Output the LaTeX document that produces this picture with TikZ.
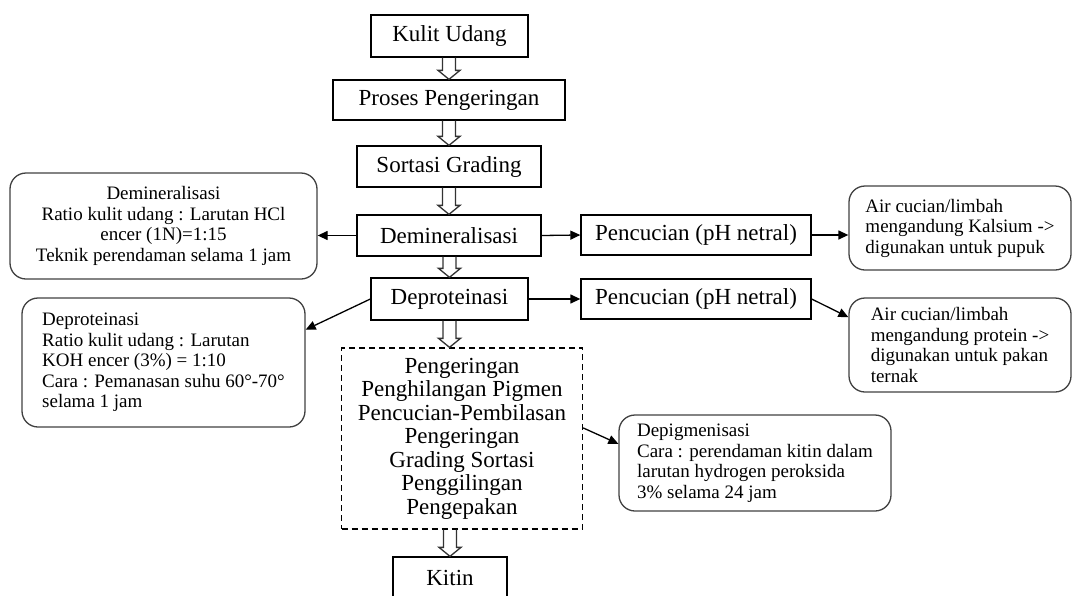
\documentclass[tikz,border=0pt]{standalone}
\usepackage{fontspec}
\setmainfont{Liberation Serif}
\usetikzlibrary{arrows.meta,calc}

\begin{document}
\begin{tikzpicture}[x=1pt,y=-1pt,
  stage/.style={draw,line width=1.3pt,inner sep=0pt,align=center,font=\fontsize{23}{23.5}\selectfont},
  note/.style={draw=black!75,line width=1.3pt,rounded corners=16pt,inner sep=0pt,font=\fontsize{19}{20.5}\selectfont},
  link/.style={line width=1.3pt,-{Triangle[length=10pt,width=9pt]}},
  hollow/.style={line width=1.3pt,draw=black!80}]
  \useasboundingbox (0,0) rectangle (1072,595);
  \clip (0,0) rectangle (1072,595);
  \node[stage,minimum width=157pt,minimum height=42pt] (kulit) at (449.5,36) {Kulit Udang};
  \node[stage,minimum width=232pt,minimum height=40pt] (proses) at (449,100) {Proses Pengeringan};
  \node[stage,minimum width=184pt,minimum height=41pt] (sortasi) at (449,166.5) {Sortasi Grading};
  \node[stage,minimum width=184pt,minimum height=41pt] (demin) at (449,235.5) {Demineralisasi};
  \node[stage,minimum width=157pt,minimum height=42pt] (deprot) at (449.5,299) {Deproteinasi};
  \node[stage,dash pattern=on 6pt off 4pt,minimum width=241pt,minimum height=181pt] (proc) at (462,438.5)
    {Pengeringan\\Penghilangan Pigmen\\Pencucian-Pembilasan\\Pengeringan\\Grading Sortasi\\Penggilingan\\Pengepakan};
  \node[stage,minimum width=114pt,minimum height=42pt] (kitin) at (450,578) {Kitin};
  \node[stage,minimum width=230pt,minimum height=40pt] (pc1) at (696,235) {Pencucian (pH netral)};
  \node[stage,minimum width=230pt,minimum height=40pt] (pc2) at (696,299) {Pencucian (pH netral)};
  \node[note,align=center,minimum width=307pt,minimum height=106pt] (dmnote) at (163.5,226)
    {Demineralisasi\\Ratio kulit udang : Larutan HCl\\encer (1N)=1:15\\Teknik perendaman selama 1 jam};
  \node[note,align=left,minimum width=283pt,minimum height=129pt] (dpnote) at (163.5,362.5)
    {Deproteinasi\\Ratio kulit udang : Larutan\\KOH encer (3\%) = 1:10\\Cara : Pemanasan suhu 60°-70°\\selama 1 jam};
  \node[note,align=left,minimum width=222pt,minimum height=84pt] (rn1) at (960,228)
    {Air cucian/limbah\\mengandung Kalsium ->\\digunakan untuk pupuk};
  \node[note,align=left,minimum width=222pt,minimum height=94pt] (rn2) at (960,345)
    {Air cucian/limbah\\mengandung protein ->\\digunakan untuk pakan\\ternak};
  \node[note,align=left,minimum width=272pt,minimum height=96pt] (dgnote) at (755,463)
    {Depigmenisasi\\Cara : perendaman kitin dalam\\larutan hydrogen peroksida\\3\% selama 24 jam};
  \foreach \a/\b/\c in {kulit/proses/proses,proses/sortasi/sortasi,sortasi/demin/demin,demin/deprot/deprot,deprot/proc/deprot,proc/kitin/kitin}
    \draw[hollow] ($(\a.south -| \c.center)+(-6.5,0)$) -- ($(\b.north -| \c.center)+(-6.5,-9)$)
      -- ($(\b.north -| \c.center)+(-11,-9)$) -- (\b.north -| \c.center) -- ($(\b.north -| \c.center)+(11,-9)$)
      -- ($(\b.north -| \c.center)+(6.5,-9)$) -- ($(\a.south -| \c.center)+(6.5,0)$);
  \draw[link] (demin.west) -- (demin.west -| dmnote.east);
  \draw[link] (demin.east) -- (pc1.west);
  \draw[link] (pc1.east) -- (pc1.east -| rn1.west);
  \draw[link] (deprot.west) -- (dpnote.13);
  \draw[link] (deprot.east) -- (pc2.west);
  \draw[link] (pc2.east) -- (rn2.166);
  \draw[link] (proc.5) -- (dgnote.172);
\end{tikzpicture}
\end{document}
